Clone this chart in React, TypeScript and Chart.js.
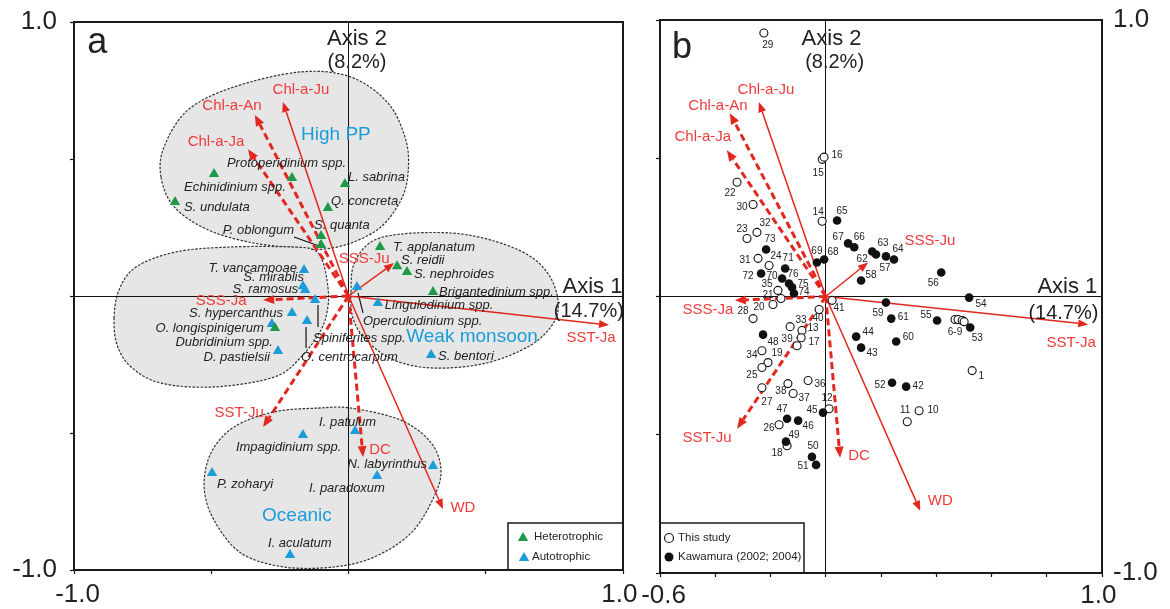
import React, { useEffect, useRef } from 'react';
import { Chart, registerables } from 'chart.js';

Chart.register(...registerables);

const W = 1170;
const H = 609;
const FONT = "'Liberation Sans', Arial, Helvetica, sans-serif";
const RED_LINE = '#e2271f';
const RED_TEXT = '#ee3a3a';
const BLUE = '#1b9dd9';
const GREEN = '#1d9a47';
const INK = '#222222';

// ---------------- Panel a : species scores ----------------
const hetNames = ['Echinidinium spp.', 'S. undulata', 'Protoperidinium spp.', 'L. sabrina', 'Q. concreta', 'S. quanta', 'P. oblongum', 'T. applanatum', 'S. reidii', 'S. nephroides', 'Brigantedinium spp.', 'Dubridinium spp.'];
const hetX = [-0.490, -0.632, -0.206, -0.013, -0.075, -0.100, -0.100, 0.115, 0.177, 0.213, 0.308, -0.268];
const hetY = [0.445, 0.343, 0.431, 0.409, 0.321, 0.219, 0.186, 0.179, 0.109, 0.088, 0.015, -0.117];

const autNames = ['T. vancampoae', 'S. mirablis', 'S. ramosus', 'Spiniferites spp.', 'S. hypercanthus', 'O. centrocarpum', 'O. longispinigerum', 'D. pastielsii', 'Operculodinium spp.', 'Lingulodinium spp.', 'S. bentori', 'I. patulum', 'Impagidinium spp.', 'N. labyrinthus', 'P. zoharyi', 'I. paradoxum', 'I. aculatum'];
const autX = [-0.162, -0.166, -0.158, -0.122, -0.206, -0.151, -0.279, -0.257, 0.031, 0.107, 0.301, 0.024, -0.166, 0.308, -0.497, 0.104, -0.213];
const autY = [0.095, 0.036, 0.022, -0.015, -0.062, -0.091, -0.102, -0.201, 0.033, -0.026, -0.215, -0.493, -0.507, -0.620, -0.646, -0.657, -0.945];

// ---------------- Environmental variables (biplot arrows) ----------------
const envNames = ['Chl-a-Ju', 'Chl-a-An', 'Chl-a-Ja', 'SSS-Ju', 'SSS-Ja', 'SST-Ju', 'DC', 'WD', 'SST-Ja'];
const envAX = [-0.239, -0.341, -0.366, 0.166, -0.311, -0.311, 0.053, 0.344, 0.949];
const envAY = [0.708, 0.661, 0.536, 0.120, -0.015, -0.478, -0.588, -0.777, -0.106];
const envBX = [-0.242, -0.347, -0.358, 0.153, -0.329, -0.321, 0.052, 0.342, 0.950];
const envBY = [0.703, 0.663, 0.529, 0.123, -0.014, -0.478, -0.583, -0.775, -0.101];

// ---------------- Panel b : sample scores ----------------
const studyIds = ['1', '6', '7', '8', '9', '10', '11', '12', '13', '14', '15', '16', '17', '18', '19', '20', '21', '22', '23', '24', '25', '26', '27', '28', '29', '30', '31', '32', '33', '34', '35', '36', '37', '38', '39', '40', '41'];
const studyX = [0.530, 0.468, 0.479, 0.494, 0.501, 0.338, 0.295, 0.012, -0.086, -0.013, -0.013, -0.006, -0.104, -0.140, -0.209, -0.191, -0.162, -0.321, -0.285, -0.205, -0.231, -0.169, -0.231, -0.263, -0.224, -0.263, -0.245, -0.249, -0.129, -0.231, -0.173, -0.064, -0.118, -0.137, -0.089, -0.024, 0.023];
const studyY = [-0.268, -0.083, -0.083, -0.087, -0.091, -0.413, -0.453, -0.406, -0.123, 0.272, 0.496, 0.504, -0.178, -0.540, -0.239, -0.029, -0.007, 0.413, 0.210, 0.112, -0.257, -0.464, -0.330, -0.080, 0.953, 0.333, 0.138, 0.232, -0.109, -0.196, 0.022, -0.304, -0.351, -0.315, -0.149, -0.047, -0.014];

const kawIds = ['42', '43', '44', '45', '46', '47', '48', '49', '50', '51', '52', '53', '54', '55', '56', '57', '58', '59', '60', '61', '62', '63', '64', '65', '66', '67', '68', '69', '70', '71', '72', '73', '74', '75', '76'];
const kawX = [0.291, 0.128, 0.110, -0.010, -0.100, -0.140, -0.227, -0.144, -0.050, -0.035, 0.240, 0.523, 0.519, 0.403, 0.418, 0.182, 0.128, 0.218, 0.255, 0.237, 0.168, 0.218, 0.247, 0.041, 0.103, 0.081, -0.006, -0.032, -0.158, -0.147, -0.234, -0.216, -0.115, -0.122, -0.133];
const kawY = [-0.326, -0.185, -0.145, -0.420, -0.449, -0.442, -0.138, -0.525, -0.580, -0.609, -0.312, -0.112, -0.004, -0.087, 0.087, 0.152, 0.058, -0.022, -0.163, -0.080, 0.163, 0.145, 0.134, 0.275, 0.178, 0.192, 0.134, 0.123, 0.065, 0.101, 0.083, 0.170, 0.011, 0.033, 0.047];

// ---------------- Tick labels ----------------
const xTickLabelsA = [-1.0, 1.0];
const yTickLabelsA = [-1.0, 1.0];
const xTickLabelsB = [-0.6, 1.0];
const yTickLabelsB = [-1.0, 1.0];

// ---------------- Group outlines (panel a, data units) ----------------
const groupHighPP = [[-0.683, 0.434], [-0.672, 0.544], [-0.585, 0.679], [-0.417, 0.763], [-0.173, 0.818], [0.009, 0.799], [0.144, 0.704], [0.209, 0.569], [0.217, 0.449], [0.191, 0.350], [0.118, 0.252], [0.009, 0.193], [-0.100, 0.170], [-0.173, 0.175], [-0.344, 0.193], [-0.511, 0.241], [-0.635, 0.325]];
const groupCoastal = [[-0.854, -0.080], [-0.836, 0.022], [-0.774, 0.106], [-0.628, 0.161], [-0.428, 0.179], [-0.209, 0.179], [-0.126, 0.168], [-0.093, 0.124], [-0.075, 0.033], [-0.075, -0.040], [-0.100, -0.124], [-0.173, -0.223], [-0.271, -0.296], [-0.490, -0.332], [-0.683, -0.318], [-0.792, -0.259], [-0.843, -0.179]];
const groupWeakMonsoon = [[0.009, 0.015], [0.020, 0.117], [0.082, 0.197], [0.191, 0.226], [0.373, 0.230], [0.519, 0.204], [0.654, 0.150], [0.730, 0.077], [0.763, -0.015], [0.749, -0.095], [0.665, -0.179], [0.501, -0.245], [0.311, -0.263], [0.166, -0.234], [0.064, -0.161], [0.016, -0.080]];
const groupOceanic = [[-0.111, -0.409], [0.009, -0.409], [0.191, -0.453], [0.301, -0.536], [0.337, -0.635], [0.311, -0.734], [0.228, -0.865], [0.093, -0.953], [-0.053, -0.989], [-0.235, -0.989], [-0.392, -0.938], [-0.490, -0.818], [-0.526, -0.697], [-0.501, -0.573], [-0.417, -0.478], [-0.271, -0.423]];

// ---------------- Layout (label offsets in px) ----------------
const envDashed: Record<string, boolean> = { 'Chl-a-Ju': false, 'Chl-a-An': true, 'Chl-a-Ja': true, 'SSS-Ju': false, 'SSS-Ja': true, 'SST-Ju': true, 'DC': true, 'WD': false, 'SST-Ja': false };
const envLabelOffA: Record<string, number[]> = { 'Chl-a-Ju': [18, -12], 'Chl-a-An': [-23, -9], 'Chl-a-Ja': [-32, -7], 'SSS-Ju': [-30, -4], 'SSS-Ja': [-42, 1], 'SST-Ju': [-24, -14], 'DC': [17, -7], 'WD': [20, -1], 'SST-Ja': [-18, 13] };
const envLabelOffB: Record<string, number[]> = { 'Chl-a-Ju': [7, -12], 'Chl-a-An': [-12, -7], 'Chl-a-Ja': [-24, -13], 'SSS-Ju': [62, -22], 'SSS-Ja': [-27, 9], 'SST-Ju': [-30, 9], 'DC': [19, -2], 'WD': [20, -10], 'SST-Ja': [-17, 18] };

type SpLayout = [number, number, CanvasTextAlign, number[]?];
const speciesLabelLayout: Record<string, SpLayout> = {
  'Echinidinium spp.': [-30, 13, 'left'],
  'S. undulata': [9, 5, 'left'],
  'Protoperidinium spp.': [-65, -15, 'left'],
  'L. sabrina': [3, -7, 'left'],
  'Q. concreta': [3, -7, 'left'],
  'S. quanta': [-7, -11, 'left'],
  'P. oblongum': [-27, -15, 'right', [-27, -8, -2, 1]],
  'T. applanatum': [13, 0, 'left'],
  'S. reidii': [4, -6, 'left'],
  'S. nephroides': [7, 3, 'left'],
  'Brigantedinium spp.': [6, 1, 'left'],
  'Dubridinium spp.': [-2, 14, 'right'],
  'T. vancampoae': [-7, -2, 'right'],
  'S. mirablis': [1, -9, 'right'],
  'S. ramosus': [-7, -1, 'right'],
  'Spiniferites spp.': [-2, 38, 'left', [3, 5, 3, 27]],
  'S. hypercanthus': [-9, 0, 'right'],
  'O. centrocarpum': [-6, 36, 'left', [-1, 6, -1, 27]],
  'O. longispinigerum': [-8, 4, 'right'],
  'D. pastielsii': [-8, 6, 'right'],
  'Operculodinium spp.': [6, 34, 'left', [1, 6, 6, 26]],
  'Lingulodinium spp.': [7, 2, 'left'],
  'S. bentori': [7, 1, 'left'],
  'I. patulum': [-36, -9, 'left'],
  'Impagidinium spp.': [-67, 12, 'left'],
  'N. labyrinthus': [-6, -1, 'right'],
  'P. zoharyi': [5, 11, 'left'],
  'I. paradoxum': [-68, 12, 'left'],
  'I. aculatum': [-22, -12, 'left'],
};

const sampleLabelLayout: Record<string, [number, number, string?]> = {
  '1': [9, 6], '6': [0, 13, '6-9'], '10': [14, 0], '11': [-2, -12], '12': [-2, -11], '13': [11, -2], '14': [-4, -9], '15': [-4, 14], '16': [13, -2], '17': [17, -3], '18': [-10, 7], '19': [9, -9], '20': [-14, 3], '21': [-13, -3], '22': [-7, 11], '23': [-5, -9], '24': [7, -9], '25': [-10, 8], '26': [-10, 3], '27': [5, 15], '28': [-10, -7], '29': [4, 12], '30': [-11, 3], '31': [-13, 2], '32': [8, -9], '33': [11, -6], '34': [-10, 5], '35': [-11, -6], '36': [12, 4], '37': [11, 5], '38': [-7, 8], '39': [-14, 2], '40': [-1, 9], '41': [7, 8],
  '42': [12, 0], '43': [11, 6], '44': [12, -4], '45': [-11, -2], '46': [10, 6], '47': [-5, -9], '48': [10, 8], '49': [8, -6], '50': [1, -11], '51': [-13, 1], '52': [-12, 2], '53': [7, 11], '54': [12, 7], '55': [-11, -5], '56': [-8, 11], '57': [9, 14], '58': [10, -5], '59': [-8, 11], '60': [12, -4], '61': [12, -1], '62': [-10, 8], '63': [-3, -13], '64': [4, -10], '65': [5, -9], '66': [5, -10], '67': [-10, -6], '68': [9, -7], '69': [0, -11], '70': [-10, -2], '71': [3, -10], '72': [-13, 3], '73': [4, -10], '74': [10, -1], '75': [11, -3], '76': [4, -9],
};

// annotation text anchored in data units: [text, x, y, align, fontPx, color, baseline]
type Ann = [string, number, number, CanvasTextAlign, number, string, CanvasTextBaseline];
const annotationsA: Ann[] = [
  ['a', -0.952, 0.887, 'left', 36, INK, 'alphabetic'],
  ['Axis 2', 0.031, 0.916, 'center', 22, INK, 'alphabetic'],
  ['(8.2%)', 0.031, 0.832, 'center', 20, INK, 'alphabetic'],
  ['Axis 1', 0.998, 0.011, 'right', 22, INK, 'alphabetic'],
  ['(14.7%)', 1.003, -0.077, 'right', 20, INK, 'alphabetic'],
  ['High PP', -0.046, 0.588, 'center', 19, BLUE, 'middle'],
  ['Weak monsoon', 0.450, -0.150, 'center', 19, BLUE, 'middle'],
  ['Oceanic', -0.188, -0.803, 'center', 19, BLUE, 'middle'],
];
const annotationsB: Ann[] = [
  ['b', -0.557, 0.862, 'left', 36, INK, 'alphabetic'],
  ['Axis 2', 0.021, 0.909, 'center', 22, INK, 'alphabetic'],
  ['(8.2%)', 0.032, 0.826, 'center', 20, INK, 'alphabetic'],
  ['Axis 1', 0.983, 0.011, 'right', 22, INK, 'alphabetic'],
  ['(14.7%)', 0.987, -0.080, 'right', 20, INK, 'alphabetic'],
];
const legendA = ['Heterotrophic', 'Autotrophic'];
const legendB = ['This study', 'Kawamura (2002; 2004)'];

// ---------------- drawing helpers ----------------
function toPx(chart: any, x: number, y: number): [number, number] {
  return [chart.scales.x.getPixelForValue(x), chart.scales.y.getPixelForValue(y)];
}

function smoothClosed(ctx: CanvasRenderingContext2D, pts: number[][]) {
  const n = pts.length;
  ctx.beginPath();
  ctx.moveTo(pts[0][0], pts[0][1]);
  const t = 1 / 6;
  for (let i = 0; i < n; i++) {
    const p0 = pts[(i - 1 + n) % n], p1 = pts[i], p2 = pts[(i + 1) % n], p3 = pts[(i + 2) % n];
    ctx.bezierCurveTo(
      p1[0] + (p2[0] - p0[0]) * t, p1[1] + (p2[1] - p0[1]) * t,
      p2[0] - (p3[0] - p1[0]) * t, p2[1] - (p3[1] - p1[1]) * t,
      p2[0], p2[1]
    );
  }
  ctx.closePath();
}

function drawGroup(chart: any, outline: number[][]) {
  const ctx: CanvasRenderingContext2D = chart.ctx;
  const pts = outline.map((p) => toPx(chart, p[0], p[1]));
  ctx.save();
  smoothClosed(ctx, pts);
  ctx.fillStyle = '#e6e6e6';
  ctx.fill();
  ctx.setLineDash([2.5, 1.5]);
  ctx.lineWidth = 1.2;
  ctx.strokeStyle = '#333';
  ctx.stroke();
  ctx.restore();
}

function drawArrow(ctx: CanvasRenderingContext2D, x0: number, y0: number, x1: number, y1: number, dashed: boolean) {
  const ang = Math.atan2(y1 - y0, x1 - x0);
  const headLen = dashed ? 11 : 10;
  const headW = dashed ? 4.5 : 4;
  const bx = x1 - headLen * Math.cos(ang);
  const by = y1 - headLen * Math.sin(ang);
  ctx.save();
  ctx.strokeStyle = RED_LINE;
  ctx.lineWidth = dashed ? 3 : 1.5;
  ctx.setLineDash(dashed ? [7, 4] : []);
  ctx.beginPath();
  ctx.moveTo(x0, y0);
  ctx.lineTo(bx, by);
  ctx.stroke();
  ctx.setLineDash([]);
  ctx.fillStyle = RED_LINE;
  ctx.beginPath();
  ctx.moveTo(x1, y1);
  ctx.lineTo(bx + headW * Math.sin(ang), by - headW * Math.cos(ang));
  ctx.lineTo(bx - headW * Math.sin(ang), by + headW * Math.cos(ang));
  ctx.closePath();
  ctx.fill();
  ctx.restore();
}

function drawTriangle(ctx: CanvasRenderingContext2D, x: number, y: number, r: number, color: string) {
  ctx.save();
  ctx.fillStyle = color;
  ctx.beginPath();
  ctx.moveTo(x, y - r);
  ctx.lineTo(x + r * Math.sin((2 * Math.PI) / 3), y + r / 2);
  ctx.lineTo(x - r * Math.sin((2 * Math.PI) / 3), y + r / 2);
  ctx.closePath();
  ctx.fill();
  ctx.restore();
}

function drawText(ctx: CanvasRenderingContext2D, text: string, x: number, y: number, font: string, color: string, align: CanvasTextAlign, baseline: CanvasTextBaseline = 'middle') {
  ctx.save();
  ctx.font = font;
  ctx.fillStyle = color;
  ctx.textAlign = align;
  ctx.textBaseline = baseline;
  ctx.fillText(text, x, y);
  ctx.restore();
}

function drawFrame(chart: any) {
  const { ctx, chartArea: ca } = chart;
  ctx.save();
  ctx.strokeStyle = '#1a1a1a';
  ctx.lineWidth = 2;
  ctx.strokeRect(ca.left, ca.top, ca.right - ca.left, ca.bottom - ca.top);
  ctx.restore();
}

function drawEnv(chart: any, ex: number[], ey: number[]) {
  const ctx = chart.ctx;
  const [ox, oy] = toPx(chart, 0, 0);
  envNames.forEach((name, i) => {
    const [tx, ty] = toPx(chart, ex[i], ey[i]);
    drawArrow(ctx, ox, oy, tx, ty, envDashed[name]);
  });
}

function drawEnvLabels(chart: any, ex: number[], ey: number[], offs: Record<string, number[]>) {
  const ctx = chart.ctx;
  envNames.forEach((name, i) => {
    const [tx, ty] = toPx(chart, ex[i], ey[i]);
    const o = offs[name];
    drawText(ctx, name, tx + o[0], ty + o[1], `15px ${FONT}`, RED_TEXT, 'center');
  });
}

function drawAnnotations(chart: any, anns: Ann[]) {
  anns.forEach(([text, x, y, align, size, color, base]) => {
    const [px, py] = toPx(chart, x, y);
    drawText(chart.ctx, text, px, py, `${size}px ${FONT}`, color, align, base);
  });
}

const pluginA = {
  id: 'panelA',
  beforeDraw(chart: any) {
    [groupHighPP, groupCoastal, groupWeakMonsoon, groupOceanic].forEach((g) => drawGroup(chart, g));
  },
  beforeDatasetsDraw(chart: any) {
    const ctx = chart.ctx;
    const names = [...hetNames, ...autNames];
    const xs = [...hetX, ...autX];
    const ys = [...hetY, ...autY];
    ctx.save();
    ctx.strokeStyle = '#111';
    ctx.lineWidth = 1.2;
    names.forEach((n, i) => {
      const lay = speciesLabelLayout[n];
      if (lay && lay[3]) {
        const [px, py] = toPx(chart, xs[i], ys[i]);
        const l = lay[3];
        ctx.beginPath();
        ctx.moveTo(px + l[0], py + l[1]);
        ctx.lineTo(px + l[2], py + l[3]);
        ctx.stroke();
      }
    });
    ctx.restore();
    drawEnv(chart, envAX, envAY);
  },
  afterDatasetsDraw(chart: any) {
    const ctx = chart.ctx;
    const names = [...hetNames, ...autNames];
    const xs = [...hetX, ...autX];
    const ys = [...hetY, ...autY];
    names.forEach((n, i) => {
      const lay = speciesLabelLayout[n];
      const [px, py] = toPx(chart, xs[i], ys[i]);
      drawText(ctx, n, px + lay[0], py + lay[1], `italic 13px ${FONT}`, INK, lay[2]);
    });
    drawEnvLabels(chart, envAX, envAY, envLabelOffA);
    drawAnnotations(chart, annotationsA);
    const ca = chart.chartArea;
    const L = ca.right - 115, T = ca.bottom - 47;
    ctx.save();
    ctx.fillStyle = '#fff';
    ctx.fillRect(L, T, ca.right - L, ca.bottom - T);
    ctx.strokeStyle = '#1a1a1a';
    ctx.lineWidth = 1.5;
    ctx.strokeRect(L, T, ca.right - L, ca.bottom - T);
    ctx.restore();
    drawTriangle(ctx, L + 15, T + 15, 6, GREEN);
    drawText(ctx, legendA[0], L + 26, T + 14, `11.5px ${FONT}`, INK, 'left');
    drawTriangle(ctx, L + 16, T + 35, 6, BLUE);
    drawText(ctx, legendA[1], L + 24, T + 34, `11.5px ${FONT}`, INK, 'left');
  },
  afterDraw(chart: any) {
    drawFrame(chart);
  },
};

const pluginB = {
  id: 'panelB',
  beforeDatasetsDraw(chart: any) {
    drawEnv(chart, envBX, envBY);
  },
  afterDatasetsDraw(chart: any) {
    const ctx = chart.ctx;
    const groups: [string[], number[], number[]][] = [[studyIds, studyX, studyY], [kawIds, kawX, kawY]];
    groups.forEach(([ids, xs, ys]) => {
      ids.forEach((id, i) => {
        const lay = sampleLabelLayout[id];
        if (!lay) return;
        const [px, py] = toPx(chart, xs[i], ys[i]);
        drawText(ctx, lay[2] || id, px + lay[0], py + lay[1], `10px ${FONT}`, INK, 'center');
      });
    });
    drawEnvLabels(chart, envBX, envBY, envLabelOffB);
    drawAnnotations(chart, annotationsB);
    const ca = chart.chartArea;
    const L = ca.left, T = ca.bottom - 50, R = ca.left + 144;
    ctx.save();
    ctx.fillStyle = '#fff';
    ctx.fillRect(L, T, R - L, ca.bottom - T);
    ctx.strokeStyle = '#1a1a1a';
    ctx.lineWidth = 1.5;
    ctx.strokeRect(L, T, R - L, ca.bottom - T);
    ctx.lineWidth = 1.2;
    ctx.beginPath();
    ctx.arc(L + 9, T + 15, 4.5, 0, Math.PI * 2);
    ctx.fillStyle = '#fff';
    ctx.fill();
    ctx.stroke();
    ctx.beginPath();
    ctx.arc(L + 9, T + 34, 4.5, 0, Math.PI * 2);
    ctx.fillStyle = '#111';
    ctx.fill();
    ctx.restore();
    drawText(ctx, legendB[0], L + 18, T + 15, `11.5px ${FONT}`, INK, 'left');
    drawText(ctx, legendB[1], L + 18, T + 34, `11.5px ${FONT}`, INK, 'left');
  },
  afterDraw(chart: any) {
    drawFrame(chart);
  },
};

// y-axis labels: plain; x-axis labels: first label nudged right, last label nudged left (as in the figure)
function tickFmt(labels: number[], nudge: boolean) {
  return (v: any) => {
    const val = Number(v);
    if (!labels.some((t) => Math.abs(t - val) < 1e-6)) return '';
    const s = val.toFixed(1);
    if (!nudge) return s;
    const lo = Math.min(...labels);
    return Math.abs(val - lo) < 1e-6 ? ' ' + s : s + ' ';
  };
}

const zeroGrid = (c: any) => (c.tick && Math.abs(c.tick.value) < 1e-9 ? '#111' : 'rgba(0,0,0,0)');

function xScale(min: number, max: number, step: number, labels: number[], height: number, pad: number) {
  return {
    type: 'linear',
    position: 'bottom',
    min,
    max,
    afterFit: (s: any) => { s.height = height; s.paddingLeft = 0; s.paddingRight = 0; },
    ticks: { stepSize: step, autoSkip: false, maxRotation: 0, minRotation: 0, padding: pad, color: INK, font: { family: FONT, size: 26 }, callback: tickFmt(labels, true) },
    grid: { color: zeroGrid, lineWidth: 1, tickColor: '#111', tickLength: 4, tickWidth: 1.2 },
    border: { display: true, color: '#1a1a1a', width: 2 },
  };
}

function yScale(pos: 'left' | 'right', labels: number[], width: number, pad: number, showLabels: boolean, drawTicks: boolean, zeroLine: boolean) {
  return {
    type: 'linear',
    position: pos,
    min: -1,
    max: 1,
    afterFit: (s: any) => { s.width = width; s.paddingTop = 0; s.paddingBottom = 0; },
    ticks: { display: showLabels, stepSize: 0.5, autoSkip: false, padding: pad, color: INK, font: { family: FONT, size: 26 }, callback: tickFmt(labels, false) },
    grid: { color: zeroLine ? zeroGrid : 'rgba(0,0,0,0)', drawOnChartArea: zeroLine, drawTicks, lineWidth: 1, tickColor: '#111', tickLength: 4, tickWidth: 1.2 },
    border: { display: true, color: '#1a1a1a', width: 2 },
  };
}

function configA(): any {
  return {
    type: 'scatter',
    data: {
      datasets: [
        { label: legendA[0], data: hetX.map((x, i) => ({ x, y: hetY[i] })), pointStyle: 'triangle', pointRadius: 6, backgroundColor: GREEN, borderColor: GREEN, borderWidth: 0 },
        { label: legendA[1], data: autX.map((x, i) => ({ x, y: autY[i] })), pointStyle: 'triangle', pointRadius: 6, backgroundColor: BLUE, borderColor: BLUE, borderWidth: 0 },
      ],
    },
    options: {
      responsive: false,
      animation: false,
      events: [],
      layout: { padding: { left: 0, top: 22, right: W - 623, bottom: 0 } },
      plugins: { legend: { display: false }, tooltip: { enabled: false } },
      scales: {
        x: xScale(-1, 1, 0.5, xTickLabelsA, 39, 5),
        y: yScale('left', yTickLabelsA, 74, 13, true, true, true),
      },
    },
    plugins: [pluginA],
  };
}

function configB(): any {
  return {
    type: 'scatter',
    data: {
      datasets: [
        { label: legendB[1], data: kawX.map((x, i) => ({ x, y: kawY[i] })), pointStyle: 'circle', pointRadius: 4.3, backgroundColor: '#111', borderColor: '#111', borderWidth: 0 },
        { label: legendB[0], data: studyX.map((x, i) => ({ x, y: studyY[i] })), pointStyle: 'circle', pointRadius: 4, backgroundColor: '#fff', borderColor: '#111', borderWidth: 1.1 },
      ],
    },
    options: {
      responsive: false,
      animation: false,
      events: [],
      layout: { padding: { left: 655, top: 20, right: 0, bottom: 0 } },
      plugins: { legend: { display: false }, tooltip: { enabled: false } },
      scales: {
        x: xScale(-0.6, 1, 0.2, xTickLabelsB, 36, 3),
        y: yScale('right', yTickLabelsB, 68, 11, true, false, true),
        yLeft: yScale('left', yTickLabelsB, 5, 0, false, true, false),
      },
    },
    plugins: [pluginB],
  };
}

export default function App() {
  const refA = useRef<HTMLCanvasElement>(null);
  const refB = useRef<HTMLCanvasElement>(null);
  useEffect(() => {
    const a = new Chart(refA.current as HTMLCanvasElement, configA());
    const b = new Chart(refB.current as HTMLCanvasElement, configB());
    return () => {
      a.destroy();
      b.destroy();
    };
  }, []);
  return (
    <div style={{ position: 'absolute', left: 0, top: 0, width: W, height: H, background: '#fff' }}>
      <canvas ref={refA} width={W} height={H} style={{ position: 'absolute', left: 0, top: 0, width: W, height: H }} />
      <canvas ref={refB} width={W} height={H} style={{ position: 'absolute', left: 0, top: 0, width: W, height: H }} />
    </div>
  );
}
